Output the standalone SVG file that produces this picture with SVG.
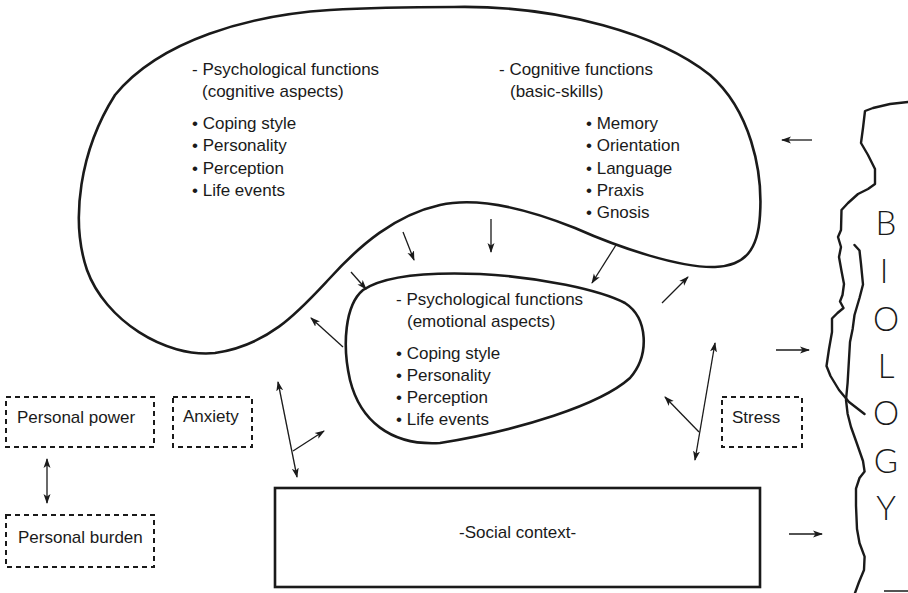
<svg xmlns="http://www.w3.org/2000/svg" width="908" height="593" viewBox="0 0 908 593">
<style>
  .blob{fill:none;stroke:#1a1a1a;stroke-width:2.6;stroke-linejoin:round}
  .wavy{fill:none;stroke:#1a1a1a;stroke-width:2.4;stroke-linejoin:round;stroke-linecap:round}
  .dash{fill:none;stroke:#1a1a1a;stroke-width:2;stroke-dasharray:5 4}
  .box{fill:none;stroke:#1a1a1a;stroke-width:2.6}
  .t{font-family:"Liberation Sans",Arial,sans-serif;font-size:17px;fill:#1a1a1a}
  .bio{font-family:"Lato","Liberation Sans",sans-serif;font-weight:300;font-size:33px;fill:#1a1a1a;text-anchor:middle}
  .arr{fill:none;stroke:#1a1a1a;stroke-width:1.3;marker-end:url(#ah)}
  .arr2{fill:none;stroke:#1a1a1a;stroke-width:1.3;marker-start:url(#ah);marker-end:url(#ah)}
</style>
<defs>
  <marker id="ah" viewBox="0 0 10 8" refX="9" refY="4" markerWidth="10" markerHeight="8" markerUnits="userSpaceOnUse" orient="auto-start-reverse">
    <path d="M0,0.5 L10,4 L0,7.5 L2.5,4 Z" fill="#1a1a1a"/>
  </marker>
</defs>
<rect width="908" height="593" fill="#ffffff"/>

<g id="cognitive-blob">
  <path class="blob" d="M 454,7 C 560,5 660,35 710,75 C 750,110 763,170 760,215 C 758,250 745,266 715,267 C 680,268 620,248 575,228 C 530,210 480,196 440,205 C 395,215 360,245 330,278 C 300,310 270,345 215,353 C 165,358 105,320 87,270 C 70,220 80,150 115,95 C 160,40 250,15 330,10 C 380,7 420,7 454,7 Z"/>
  <text class="t" x="192" y="75">- Psychological functions</text>
  <text class="t" x="202" y="97">(cognitive aspects)</text>
  <text class="t" x="192" y="129">• Coping style</text>
  <text class="t" x="192" y="151">• Personality</text>
  <text class="t" x="192" y="174">• Perception</text>
  <text class="t" x="192" y="196">• Life events</text>
  <text class="t" x="499" y="75">- Cognitive functions</text>
  <text class="t" x="510" y="97">(basic-skills)</text>
  <text class="t" x="586" y="129">• Memory</text>
  <text class="t" x="586" y="151">• Orientation</text>
  <text class="t" x="586" y="174">• Language</text>
  <text class="t" x="586" y="196">• Praxis</text>
  <text class="t" x="586" y="218">• Gnosis</text>
</g>

<g id="emotional-blob">
  <path class="blob" d="M 363,290 C 385,275 430,272 480,274 C 540,277 600,290 625,303 C 648,318 650,355 630,378 C 600,405 520,430 440,443 C 390,446 360,420 350,380 C 342,345 345,305 363,290 Z"/>
  <text class="t" x="396" y="305">- Psychological functions</text>
  <text class="t" x="407" y="327">(emotional aspects)</text>
  <text class="t" x="396" y="359">• Coping style</text>
  <text class="t" x="396" y="381">• Personality</text>
  <text class="t" x="396" y="403">• Perception</text>
  <text class="t" x="396" y="425">• Life events</text>
</g>

<g id="personal-power">
  <rect class="dash" x="6" y="397" width="148" height="50"/>
  <text class="t" x="17" y="423">Personal power</text>
</g>
<g id="anxiety">
  <rect class="dash" x="173" y="397" width="79" height="50"/>
  <text class="t" x="183" y="422">Anxiety</text>
</g>
<g id="personal-burden">
  <rect class="dash" x="6" y="515" width="148" height="52"/>
  <text class="t" x="18" y="543">Personal burden</text>
</g>
<g id="stress">
  <rect class="dash" x="722" y="397" width="80" height="50"/>
  <text class="t" x="732" y="423">Stress</text>
</g>
<g id="social-context">
  <rect class="box" x="275" y="488" width="485" height="99"/>
  <text class="t" x="459" y="538">-Social context-</text>
</g>

<g id="biology">
  <path class="wavy" d="M 908,102 L 890,104 L 873,108 L 865,111 L 863,128 L 861,143 L 868,155 L 875,169 L 875,184 L 868,189 L 858,194 L 848,203 L 841.5,210 L 841,230 L 838,237 L 841,247 L 839,257 L 841.5,271 L 844,284 L 842.5,295 L 840,301.5 L 843.5,308 L 837.5,313 L 832,318.5 L 832,332 L 829,349 L 826.5,366 L 830.5,376 L 839,390 L 849,402 L 864.5,414"/>
  <path class="wavy" d="M 854.5,245 L 859.5,250.5 L 861,264 L 863,284.5 L 859.5,298 L 854.5,315 L 852.7,328.7 L 850,342 L 849,359 L 847.6,383 L 846,400 L 847.6,413.7 L 851,427 L 856,441 L 863,461 L 864.6,471.6 L 859.5,478 L 856,488.6 L 856,505.6 L 857,529 L 859.5,543 L 864.6,556.6 L 864,570 L 859,582 L 855,593"/>
  <line x1="884" y1="591" x2="908" y2="591" stroke="#1a1a1a" stroke-width="1.5"/>
  <text class="bio" x="886" y="235">B</text>
  <text class="bio" x="884" y="283">I</text>
  <text class="bio" x="886" y="331">O</text>
  <text class="bio" x="886" y="378">L</text>
  <text class="bio" x="886" y="425">O</text>
  <text class="bio" x="886" y="473">G</text>
  <text class="bio" x="886" y="520">Y</text>
</g>

<g id="connectors">
  <line class="arr" x1="812" y1="140" x2="782" y2="140"/>
  <line class="arr" x1="776" y1="350" x2="809" y2="350"/>
  <line class="arr" x1="789" y1="534" x2="822" y2="534"/>
  <line class="arr" x1="403" y1="232" x2="414" y2="260"/>
  <line class="arr" x1="491" y1="219" x2="491" y2="252"/>
  <line class="arr" x1="351" y1="272" x2="366" y2="289"/>
  <line class="arr" x1="616" y1="245" x2="592" y2="283"/>
  <line class="arr" x1="343" y1="347" x2="311" y2="318"/>
  <line class="arr" x1="662" y1="303" x2="688" y2="277"/>
  <line class="arr2" x1="278" y1="382" x2="297" y2="477"/>
  <line class="arr" x1="293" y1="451" x2="324" y2="431"/>
  <line class="arr2" x1="715" y1="343" x2="695" y2="460"/>
  <line class="arr" x1="699" y1="432" x2="665" y2="397"/>
  <line class="arr2" x1="47" y1="459" x2="47" y2="503"/>
</g>
</svg>
